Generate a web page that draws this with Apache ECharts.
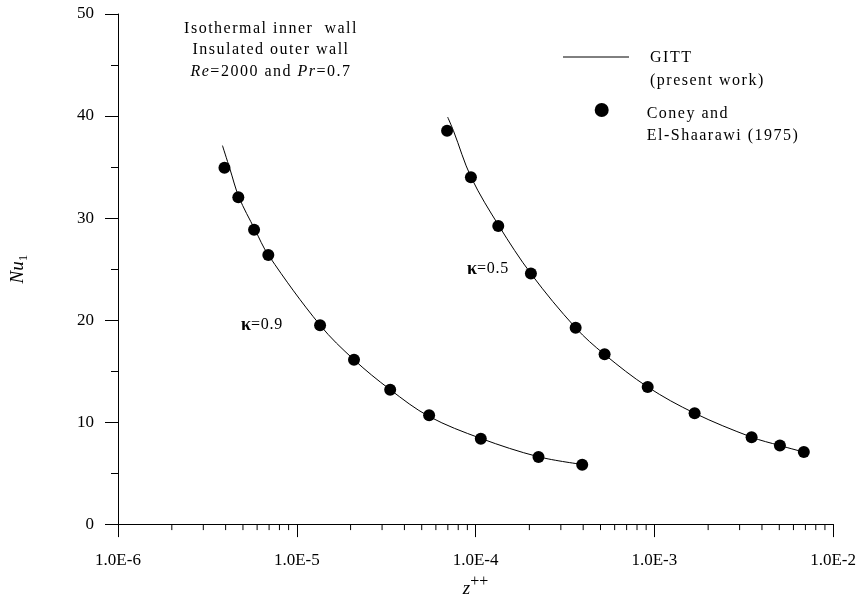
<!DOCTYPE html>
<html>
<head>
<meta charset="utf-8">
<script src="https://cdn.jsdelivr.net/npm/echarts@6/dist/echarts.min.js"></script>
<style>
html,body{margin:0;padding:0;background:#fff;}
#chart{width:859px;height:603px;}
</style>
</head>
<body>
<div id="chart"></div>
<script>
// letter spacing for fonts tagged "SpacedNN" (NN = tenths of px)
(function(){
  var P = CanvasRenderingContext2D.prototype;
  if (!('letterSpacing' in P)) return;
  var fill = P.fillText, meas = P.measureText;
  function apply(ctx){
    var m = /Spaced(\d+)/.exec(ctx.font);
    ctx.letterSpacing = m ? (m[1] / 10) + 'px' : '0px';
  }
  P.fillText = function(){ apply(this); return fill.apply(this, arguments); };
  P.measureText = function(){ apply(this); return meas.apply(this, arguments); };
})();

// ---- data ----
var xTickLabels = ['1.0E-6', '1.0E-5', '1.0E-4', '1.0E-3', '1.0E-2'];
var yTickLabels = ['0', '10', '20', '30', '40', '50'];

// GITT curves (present work)
var gitt09X = [3.84e-6, 4.22e-6, 4.75e-6, 5.83e-6, 6.95e-6, 1.35e-5, 2.09e-5, 3.33e-5, 5.5e-5, 1.07e-4, 2.25e-4, 3.95e-4];
var gitt09Y = [37.1, 34.85, 32.04, 28.88, 26.35, 19.5, 16.11, 13.18, 10.55, 8.4, 6.6, 5.85];
var gitt05X = [6.98e-5, 7.52e-5, 9.46e-5, 1.355e-4, 2.05e-4, 3.63e-4, 5.26e-4, 9.18e-4, 1.68e-3, 3.5e-3, 5.04e-3, 6.86e-3];
var gitt05Y = [39.9, 38.56, 33.97, 29.2, 24.5, 19.24, 16.64, 13.44, 10.87, 8.52, 7.7, 7.06];

// Coney and El-Shaarawi (1975) points
var coney09X = [3.94e-6, 4.71e-6, 5.77e-6, 6.93e-6, 1.35e-5, 2.09e-5, 3.33e-5, 5.50e-5, 1.07e-4, 2.25e-4, 3.95e-4];
var coney09Y = [34.92, 32.04, 28.86, 26.37, 19.50, 16.11, 13.18, 10.67, 8.36, 6.57, 5.82];
var coney05X = [6.93e-5, 9.42e-5, 1.34e-4, 2.04e-4, 3.63e-4, 5.27e-4, 9.18e-4, 1.68e-3, 3.50e-3, 5.04e-3, 6.86e-3];
var coney05Y = [38.56, 34.0, 29.21, 24.56, 19.24, 16.64, 13.44, 10.87, 8.52, 7.70, 7.06];

// minor tick multipliers within each decade
var minorMultipliers = [2, 3, 4, 5, 6, 7, 8, 9];
var decades = [1e-6, 1e-5, 1e-4, 1e-3];

function zip(xs, ys){ return xs.map(function(x, i){ return [x, ys[i]]; }); }
var minorTicks = [];
decades.forEach(function(d){ minorMultipliers.forEach(function(m){ minorTicks.push([d * m, 0]); }); });

var SERIF = "'Liberation Serif', serif";
var SPACED = "'Liberation Serif', Spaced15";
var SPACED_S = "'Liberation Serif', Spaced8";

var chart = echarts.init(document.getElementById('chart'), null, {renderer: 'canvas'});
chart.setOption({
  animation: false,
  backgroundColor: '#fff',
  grid: {left: 117.5, right: 24, top: 14, bottom: 77.5, containLabel: false},
  xAxis: {
    type: 'log', logBase: 10, min: 1e-6, max: 1e-2,
    name: '{i|z}{p|++}', nameLocation: 'middle', nameGap: 48,
    nameTextStyle: {
      rich: {
        i: {fontFamily: SERIF, fontStyle: 'italic', fontSize: 19, color: '#000', lineHeight: 24, verticalAlign: 'bottom'},
        p: {fontFamily: SERIF, fontSize: 16, color: '#000', lineHeight: 14, verticalAlign: 'top'}
      }
    },
    axisLine: {show: true, onZero: false, lineStyle: {color: '#000', width: 1}},
    axisTick: {show: true, length: 13, lineStyle: {color: '#000', width: 1}},
    minorTick: {show: false},
    splitLine: {show: false},
    axisLabel: {
      margin: 28, color: '#000', fontFamily: SERIF, fontSize: 17,
      formatter: function(v){ return xTickLabels[Math.round(Math.log10(v)) + 6]; }
    }
  },
  yAxis: {
    type: 'value', min: 0, max: 50, interval: 10,
    name: '{i|Nu}{s|1}', nameLocation: 'middle', nameGap: 88,
    nameTextStyle: {
      rich: {
        i: {fontFamily: SERIF, fontStyle: 'italic', fontSize: 19, color: '#000', lineHeight: 22, verticalAlign: 'top'},
        s: {fontFamily: SERIF, fontSize: 13, color: '#000', lineHeight: 13, verticalAlign: 'bottom'}
      }
    },
    axisLine: {show: true, lineStyle: {color: '#000', width: 1}},
    axisTick: {show: true, length: 13, lineStyle: {color: '#000', width: 1}},
    minorTick: {show: true, splitNumber: 2, length: 7, lineStyle: {color: '#000', width: 1}},
    splitLine: {show: false},
    axisLabel: {
      margin: 24, color: '#000', fontFamily: SERIF, fontSize: 17,
      formatter: function(v){ return yTickLabels[Math.round(v / 10)]; }
    }
  },
  series: [
    {name: 'GITT (present work)', type: 'line', data: zip(gitt09X, gitt09Y), smooth: 0.35,
      showSymbol: false, symbol: 'none', lineStyle: {color: '#000', width: 1}, z: 2},
    {name: 'GITT (present work)', type: 'line', data: zip(gitt05X, gitt05Y), smooth: 0.35,
      showSymbol: false, symbol: 'none', lineStyle: {color: '#000', width: 1}, z: 2},
    {name: 'Coney and El-Shaarawi (1975)', type: 'scatter', data: zip(coney09X, coney09Y), symbol: 'circle', symbolSize: 12,
      itemStyle: {color: '#000', opacity: 1}, z: 3},
    {name: 'Coney and El-Shaarawi (1975)', type: 'scatter', data: zip(coney05X, coney05Y), symbol: 'circle', symbolSize: 12,
      itemStyle: {color: '#000', opacity: 1}, z: 3},
    {name: 'minor ticks', type: 'custom', data: minorTicks, clip: false, silent: true, z: 1,
      renderItem: function(params, api){
        var p = api.coord([api.value(0), 0]);
        return {type: 'line', shape: {x1: p[0], y1: p[1], x2: p[0], y2: p[1] + 6},
          style: {stroke: '#000', lineWidth: 1}};
      }}
  ],
  graphic: [
    {type: 'text', x: 271, y: 18, style: {
      text: 'Isothermal inner  wall\nInsulated outer wall\n{i|Re}{n|=2000 and }{i|Pr}{n|=0.7}',
      align: 'center', verticalAlign: 'top', lineHeight: 21.5,
      font: '16px ' + SPACED, fill: '#000',
      rich: {
        i: {fontFamily: SPACED, fontStyle: 'italic', fontSize: 16, lineHeight: 21.5, fill: '#000'},
        n: {fontFamily: SPACED, fontSize: 16, lineHeight: 21.5, fill: '#000'}
      }
    }},
    {type: 'line', shape: {x1: 563, y1: 57, x2: 629, y2: 57}, style: {stroke: '#000', lineWidth: 1}},
    {type: 'text', x: 650, y: 47, style: {
      text: 'GITT\n(present work)', align: 'left', verticalAlign: 'top', lineHeight: 22.5,
      font: '16px ' + SPACED, fill: '#000'}},
    {type: 'circle', shape: {cx: 601.7, cy: 110, r: 7}, style: {fill: '#000'}},
    {type: 'text', x: 646.7, y: 102.5, style: {
      text: 'Coney and\nEl-Shaarawi (1975)', align: 'left', verticalAlign: 'top', lineHeight: 22.5,
      font: '16px ' + SPACED, fill: '#000'}},
    {type: 'text', x: 262, y: 325, style: {
      text: '{k|κ}{n|=0.9}', align: 'center', verticalAlign: 'middle',
      rich: {
        k: {fontFamily: SERIF, fontWeight: 'bold', fontSize: 18, fill: '#000'},
        n: {fontFamily: SPACED_S, fontSize: 16, fill: '#000'}
      }}},
    {type: 'text', x: 488, y: 269, style: {
      text: '{k|κ}{n|=0.5}', align: 'center', verticalAlign: 'middle',
      rich: {
        k: {fontFamily: SERIF, fontWeight: 'bold', fontSize: 18, fill: '#000'},
        n: {fontFamily: SPACED_S, fontSize: 16, fill: '#000'}
      }}}
  ]
});
</script>
</body>
</html>
